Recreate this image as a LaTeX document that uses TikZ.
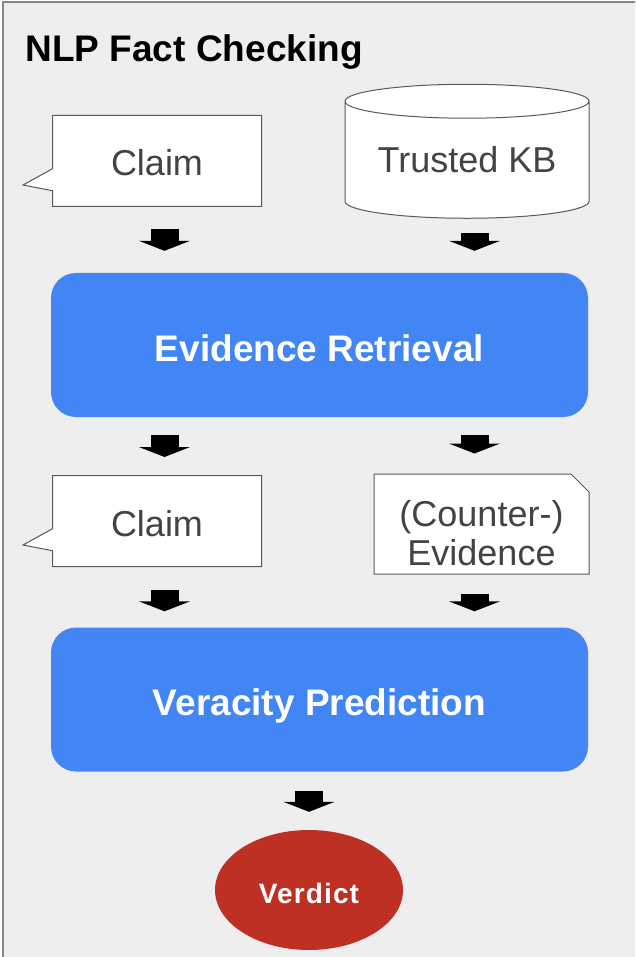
\documentclass[tikz,border=0pt]{standalone}
\usepackage{fontspec}
\setmainfont{Liberation Sans}
\usetikzlibrary{positioning,shapes.geometric,shapes.callouts,shapes.misc,arrows.meta}

\definecolor{panelgray}{HTML}{EEEEEE}
\definecolor{framegray}{HTML}{888888}
\definecolor{inkgray}{HTML}{434343}
\definecolor{edgegray}{HTML}{595959}
\definecolor{gblue}{HTML}{4285F4}
\definecolor{verdictred}{RGB}{191,48,36}

\tikzset{
  databox/.style={draw=edgegray, fill=white, line width=1pt, text=inkgray,
    font=\fontsize{36}{38}\selectfont, align=center, inner sep=0pt},
  claimbox/.style={databox, rectangle callout, minimum width=209pt,
    minimum height=91pt, callout pointer width=22pt, text height=30pt, text depth=0pt},
  stagebox/.style={fill=gblue, rounded corners=25pt, minimum width=537pt,
    minimum height=144pt, text=white, font=\fontsize{37}{40}\selectfont\bfseries,
    text height=32pt, text depth=0pt},
  pipe/.style={line width=28pt, -{Triangle[length=10pt 0 0, width=51pt 0 0]}},
}

\begin{document}
\begin{tikzpicture}[x=1pt, y=1pt]
    \useasboundingbox (0,0) rectangle (635,-957);
    \clip (0,0) rectangle (635,-957);
    \draw [framegray, fill=panelgray, line width=1.5pt] (3,-2) rectangle (660,-980);

    \node [anchor=base west, font=\fontsize{37}{40}\selectfont\bfseries] (title) at (22,-62) {NLP Fact Checking};

    % inputs
    \node [claimbox, callout absolute pointer={(23,-185)}] (claim1) at (157,-161) {Claim};
    \node [databox, cylinder, shape border rotate=90, aspect=0.19,
        minimum width=244pt, minimum height=134pt] (kb) at (467,-160) {Trusted KB};

    % stages
    \node [stagebox] (er) at (319.5,-345) {Evidence Retrieval};
    \node [claimbox, callout absolute pointer={(23,-545)}] (claim2) at (157,-521) {Claim};
    \node [databox, chamfered rectangle, chamfered rectangle corners=north east,
        chamfered rectangle xsep=9pt, chamfered rectangle ysep=9pt,
        minimum width=215pt, minimum height=94pt, text height=82pt, text depth=-32pt,
        font=\fontsize{36}{39}\selectfont]
        (evid) at (481.5,-524) {(Counter-)\\Evidence};
    \node [stagebox] (vp) at (319.5,-699.5) {Veracity Prediction};
    \node [ellipse, fill=verdictred, minimum width=188pt, minimum height=120pt, inner sep=0pt,
        text=white, font=\fontsize{28}{30}\selectfont\bfseries\addfontfeatures{LetterSpace=4},
        text height=26pt, text depth=0pt]
        (verdict) at (309,-890) {Verdict};

    \coordinate (lx) at ([xshift=-155pt]er.center);
    \coordinate (rx) at ([xshift=155pt]er.center);

    % block arrows
    \draw [pipe, shorten <=22pt, shorten >=22pt] (lx |- claim1.south) -- (lx |- er.north);
    \draw [pipe, shorten <=14pt, shorten >=22pt] (rx |- kb.south) -- (rx |- er.north);
    \draw [pipe, shorten <=18pt, shorten >=18pt] (lx |- er.south) -- (lx |- claim2.north);
    \draw [pipe, shorten <=18pt, shorten >=20pt] (rx |- er.south) -- (rx |- evid.north);
    \draw [pipe, shorten <=23pt, shorten >=16pt] (lx |- claim2.south) -- (lx |- vp.north);
    \draw [pipe, shorten <=19pt, shorten >=16pt] (rx |- evid.south) -- (rx |- vp.north);
    \draw [pipe, shorten <=19pt, shorten >=18pt] (verdict.north |- vp.south) -- (verdict.north);
\end{tikzpicture}
\end{document}
